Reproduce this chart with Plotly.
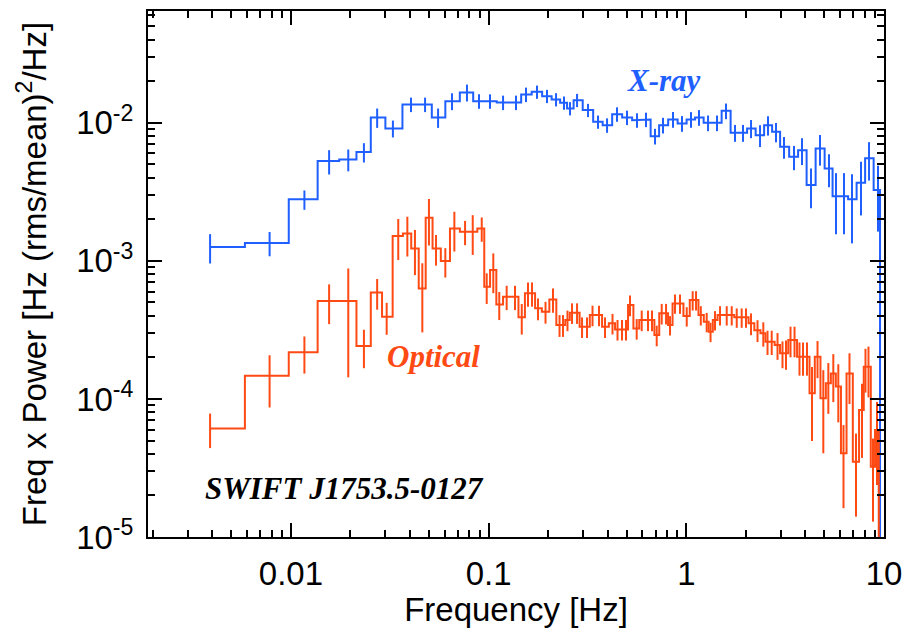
import math
import plotly.graph_objects as go

# ---------------- data ----------------
xray_freq = [0.0039, 0.0078, 0.0117, 0.0156, 0.0195, 0.0234, 0.0273, 0.0328, 0.0405, 0.0477,
             0.0555, 0.0653, 0.0777, 0.0894, 0.1016, 0.1183, 0.1376, 0.1546, 0.1757, 0.1974,
             0.2193, 0.2406, 0.2581, 0.2801, 0.3183, 0.3576, 0.3972, 0.4461, 0.5012, 0.5630,
             0.6254, 0.6945, 0.7623, 0.8564, 0.9511, 1.056, 1.159, 1.288, 1.430, 1.588,
             1.763, 1.935, 2.125, 2.360, 2.590, 2.843, 3.120, 3.506, 3.847, 4.273,
             4.746, 5.270, 5.717, 6.277, 6.888, 7.651, 8.400, 9.326, 9.77]
xray_power = [0.00126, 0.00135, 0.00279, 0.00528, 0.00543, 0.00614, 0.01094, 0.00911, 0.01359, 0.01359,
              0.01094, 0.01436, 0.0166, 0.01436, 0.01436, 0.01405, 0.01405, 0.01606, 0.01677, 0.01561,
              0.01477, 0.01396, 0.01272, 0.0146, 0.01236, 0.01017, 0.00962, 0.01156, 0.01094, 0.01046,
              0.01058, 0.00801, 0.00962, 0.01058, 0.0099, 0.01058, 0.01094, 0.0100, 0.0100, 0.01221,
              0.00847, 0.00847, 0.00911, 0.00814, 0.00962, 0.0086, 0.0067, 0.00567, 0.00634, 0.00354,
              0.00653, 0.00467, 0.00294, 0.00294, 0.00279, 0.00368, 0.00553, 0.00326, 1e-6]
xray_rel_err = [0.24, 0.20, 0.16, 0.20, 0.18, 0.16, 0.16, 0.14, 0.12, 0.12,
                0.16, 0.14, 0.14, 0.12, 0.12, 0.12, 0.12, 0.12, 0.11, 0.11,
                0.11, 0.11, 0.11, 0.11, 0.11, 0.11, 0.12, 0.12, 0.12, 0.12,
                0.12, 0.13, 0.13, 0.13, 0.13, 0.13, 0.13, 0.13, 0.13, 0.13,
                0.14, 0.14, 0.15, 0.18, 0.16, 0.16, 0.18, 0.20, 0.22, 0.32,
                0.25, 0.27, 0.47, 0.47, 0.52, 0.42, 0.31, 0.50, 0.0]

opt_freq = [0.0039, 0.0078, 0.0117, 0.0156, 0.0195, 0.0234, 0.0273, 0.0305, 0.0349, 0.0388,
            0.0424, 0.0462, 0.0499, 0.0542, 0.0604, 0.0671, 0.0760, 0.0831, 0.0923, 0.0978,
            0.1056, 0.1132,
            0.1234, 0.136, 0.1471, 0.1582, 0.1658, 0.1778, 0.194, 0.2117, 0.2284, 0.2379,
            0.2506, 0.2642, 0.2801, 0.2969, 0.3146, 0.3354, 0.3617, 0.388, 0.4233, 0.4487,
            0.4728, 0.4955, 0.519, 0.5611, 0.5948, 0.6401, 0.6706, 0.7084, 0.7508, 0.7898,
            0.8273, 0.8766, 0.9292, 1.005, 1.077, 1.12, 1.184, 1.268, 1.326, 1.397,
            1.481, 1.601, 1.697, 1.799, 1.906, 2.004, 2.125, 2.292, 2.452, 2.575,
            2.704, 2.893, 3.066, 3.194, 3.366, 3.527, 3.737, 3.893, 4.078, 4.323,
            4.61, 4.932, 5.229, 5.541, 5.873, 6.239, 6.69, 7.219, 7.738, 8.06,
            8.347, 8.8, 9.218, 9.601]
opt_power = [6.12e-5, 0.000147, 0.000218, 0.000512, 0.000512, 0.000242, 0.000591, 0.000394, 0.001512, 0.001582,
             0.001232, 0.000632, 0.00205, 0.001232, 0.000997, 0.001719, 0.001624, 0.001624, 0.001719, 0.00065,
             0.000858, 0.000484,
             0.00055, 0.00055, 0.00039, 0.000582, 0.000582, 0.000453, 0.000428, 0.000526, 0.000343, 0.000343,
             0.000373, 0.000421, 0.000421, 0.000333, 0.000333, 0.000405, 0.000405, 0.000333, 0.000353, 0.000319,
             0.000319, 0.000319, 0.000479, 0.000324, 0.000373, 0.000373, 0.000373, 0.00029, 0.000417, 0.000417,
             0.000343, 0.000492, 0.000492, 0.000398, 0.00052, 0.00052, 0.000405, 0.000362, 0.000307, 0.000373,
             0.000405, 0.000405, 0.000405, 0.00039, 0.00039, 0.00039, 0.000353, 0.000315, 0.000299, 0.00026,
             0.00026, 0.000246, 0.000214, 0.000214, 0.000267, 0.000267, 0.000202, 0.000202, 0.000202, 0.00011,
             0.000202, 0.000101, 0.00013, 0.000153, 0.000123, 4.04e-5, 0.000153, 3.51e-5, 8.31e-5, 0.000171,
             0.000171, 3.23e-5, 5.95e-5, 3e-6]
opt_rel_err = [0.28, 0.41, 0.30, 0.32, 0.72, 0.31, 0.25, 0.26, 0.33, 0.32,
               0.36, 0.52, 0.37, 0.25, 0.24, 0.32, 0.20, 0.32, 0.20, 0.25,
               0.32, 0.23,
               0.20, 0.20, 0.25, 0.20, 0.20, 0.18, 0.18, 0.20, 0.18, 0.18,
               0.17, 0.17, 0.17, 0.17, 0.17, 0.17, 0.17, 0.17, 0.17, 0.17,
               0.17, 0.17, 0.17, 0.17, 0.17, 0.17, 0.17, 0.17, 0.17, 0.17,
               0.16, 0.16, 0.16, 0.16, 0.16, 0.16, 0.16, 0.16, 0.16, 0.16,
               0.16, 0.16, 0.16, 0.16, 0.16, 0.16, 0.18, 0.18, 0.20, 0.20,
               0.20, 0.22, 0.22, 0.24, 0.25, 0.25, 0.27, 0.27, 0.27, 0.55,
               0.30, 0.60, 0.40, 0.38, 0.45, 0.60, 0.40, 0.60, 0.55, 0.35,
               0.40, 0.60, 0.60, 0.0]

x_tick_vals = [0.01, 0.1, 1, 10]
x_tick_text = ["0.01", "0.1", "1", "10"]
y_tick_vals = [1e-5, 1e-4, 1e-3, 1e-2]
y_tick_text = ["10<sup>-5</sup>", "10<sup>-4</sup>", "10<sup>-3</sup>", "10<sup>-2</sup>"]

BLUE = "#1f5fff"
RED = "#ff4a14"


def steps(f, p):
    xs, ys = [f[0]], [p[0]]
    for i in range(len(f) - 1):
        m = 0.5 * (f[i] + f[i + 1])
        xs += [m, m]
        ys += [p[i], p[i + 1]]
    xs.append(f[-1])
    ys.append(p[-1])
    return xs, ys


fig = go.Figure()
for f, p, r, col in [(xray_freq, xray_power, xray_rel_err, BLUE),
                     (opt_freq, opt_power, opt_rel_err, RED)]:
    sx, sy = steps(f, p)
    fig.add_trace(go.Scatter(x=sx, y=sy, mode="lines", line=dict(color=col, width=2),
                             hoverinfo="skip", showlegend=False))
    err = [pi * ri for pi, ri in zip(p, r)]
    fig.add_trace(go.Scatter(x=f, y=p, mode="markers", marker=dict(size=1, color=col, opacity=0),
                             error_y=dict(type="data", array=err, symmetric=True, color=col,
                                          thickness=2, width=0),
                             showlegend=False))

minor_x = [m * 10 ** e for e in range(-3, 1) for m in range(2, 10)]
minor_y = [m * 10 ** e for e in range(-5, -1) for m in range(2, 10)]

axis_font = dict(family="Liberation Sans, Arial, sans-serif", size=33, color="black")

fig.update_xaxes(type="log", range=[-2.723, 1.0], tickmode="array", tickvals=x_tick_vals,
                 ticktext=x_tick_text, ticks="inside", ticklen=14, tickwidth=2, tickcolor="black",
                 showline=True, linewidth=2, linecolor="black", mirror="allticks", automargin=False,
                 showgrid=False, zeroline=False, tickfont=axis_font, ticklabelstandoff=6,
                 minor=dict(tickmode="array", tickvals=minor_x, ticks="inside", ticklen=7,
                            tickwidth=1.5, tickcolor="black", showgrid=False),
                 title=dict(text="Frequency [Hz]", font=axis_font, standoff=2))
fig.update_yaxes(type="log", range=[-5.0, -1.19], tickmode="array", tickvals=y_tick_vals,
                 ticktext=y_tick_text, ticks="inside", ticklen=14, tickwidth=2, tickcolor="black",
                 showline=True, linewidth=2, linecolor="black", mirror="allticks", automargin=False,
                 showgrid=False, zeroline=False, tickfont=axis_font, ticklabelstandoff=6,
                 minor=dict(tickmode="array", tickvals=minor_y, ticks="inside", ticklen=7,
                            tickwidth=1.5, tickcolor="black", showgrid=False),
                 title=dict(text="Freq x Power [Hz (rms/mean)<sup>2</sup>/Hz]", font=axis_font, standoff=20))

label_font = "Liberation Serif, Times New Roman, serif"
fig.add_annotation(x=math.log10(0.771), y=math.log10(0.0204), xref="x", yref="y",
                   text="<b><i>X-ray</i></b>", showarrow=False,
                   font=dict(family=label_font, size=31, color=BLUE))
fig.add_annotation(x=math.log10(0.0525), y=math.log10(2.02e-4), xref="x", yref="y",
                   text="<b><i>Optical</i></b>", showarrow=False,
                   font=dict(family=label_font, size=31, color=RED))
fig.add_annotation(x=math.log10(0.01856), y=math.log10(2.23e-5), xref="x", yref="y",
                   text="<b><i>SWIFT J1753.5-0127</i></b>", showarrow=False,
                   font=dict(family=label_font, size=31, color="black"))

fig.update_layout(width=904, height=628,
                  margin=dict(l=148, r=20, t=11, b=91, autoexpand=False),
                  plot_bgcolor="white", paper_bgcolor="white", showlegend=False)

fig.write_html("out.html")
